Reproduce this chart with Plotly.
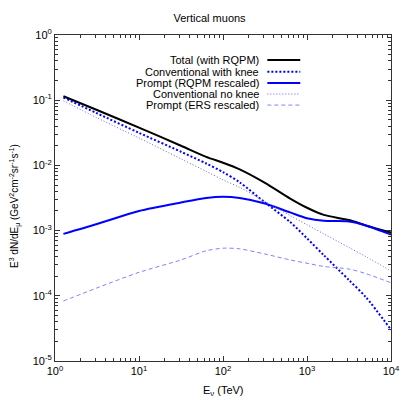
import plotly.graph_objects as go

# Energies (TeV)
energy = [1.26, 3.16, 10, 31.6, 63.1, 100, 158, 316, 631, 1000, 1585, 3162, 5012, 10000]

total_rqpm = [0.115, 0.0708, 0.038, 0.020, 0.0135, 0.011, 0.0087, 0.0054, 0.0031, 0.00224,
              0.00174, 0.00145, 0.0012, 0.00093]
conv_knee = [0.110, 0.063, 0.0316, 0.0162, 0.0107, 0.0079, 0.0055, 0.0027, 0.00135, 0.00076,
             0.00042, 0.000174, 0.0000955, 0.0000302]
prompt_rqpm = [0.00089, 0.00126, 0.002, 0.0027, 0.00316, 0.0033, 0.00316, 0.0026, 0.0019, 0.00155,
               0.00141, 0.00138, 0.0012, 0.00087]
conv_noknee = [0.0977, 0.0537, 0.0263, 0.0126, 0.0081, 0.0060, 0.0046, 0.0028, 0.0017, 0.00123,
               0.00089, 0.00055, 0.0004, 0.00024]
prompt_ers = [0.0000832, 0.000132, 0.000229, 0.000355, 0.00049, 0.000537, 0.000525, 0.000437,
              0.000355, 0.000316, 0.000282, 0.000257, 0.000219, 0.000158]

series_names = ["Total (with RQPM)", "Conventional with knee", "Prompt (RQPM rescaled)",
                "Conventional no knee", "Prompt (ERS rescaled)"]

x_tickvals = [1, 10, 100, 1000, 10000]
x_ticktext = ["10<sup>0</sup>", "10<sup>1</sup>", "10<sup>2</sup>", "10<sup>3</sup>", "10<sup>4</sup>"]
y_tickvals = [1e-5, 1e-4, 1e-3, 1e-2, 1e-1, 1]
y_ticktext = ["10<sup>-5</sup>", "10<sup>-4</sup>", "10<sup>-3</sup>", "10<sup>-2</sup>",
              "10<sup>-1</sup>", "10<sup>0</sup>"]

styles = [
    dict(color="#000000", width=2, dash="solid"),
    dict(color="#0000ff", width=2, dash="2px,2px"),
    dict(color="#0000ff", width=2, dash="solid"),
    dict(color="#6060ff", width=1, dash="1px,2px"),
    dict(color="#8080ff", width=1, dash="4px,3px"),
]
data = [total_rqpm, conv_knee, prompt_rqpm, conv_noknee, prompt_ers]

fig = go.Figure()
for name, ys, st in zip(series_names, data, styles):
    fig.add_trace(go.Scatter(x=energy, y=ys, mode="lines", name=name,
                             line=dict(color=st["color"], width=st["width"], dash=st["dash"],
                                       shape="spline", smoothing=0.8),
                             showlegend=False))

# custom gnuplot-style legend (text right, sample line on the right)
row_y = [0.923, 0.887, 0.853, 0.819, 0.785]
for name, st, yy in zip(series_names, styles, row_y):
    fig.add_annotation(x=0.614, y=yy, xref="paper", yref="paper", text=name, showarrow=False,
                       xanchor="right", yanchor="middle", font=dict(size=11, color="black"))
    fig.add_shape(type="line", xref="paper", yref="paper", x0=0.632, x1=0.730, y0=yy, y1=yy,
                  line=dict(color=st["color"], width=st["width"], dash=st["dash"]))

fig.add_annotation(x=17.0, y=0.0031, xref="x", yref="y", text="RQPM", showarrow=False,
                   font=dict(size=11, color="black"))
fig.add_annotation(x=14.0, y=0.000148, xref="x", yref="y", text="ERS", showarrow=False,
                   font=dict(size=11, color="black"))

# axis titles as annotations for exact placement
fig.add_annotation(x=(15 - 55) / 336, y=(361 - 206) / 326, xref="paper", yref="paper", textangle=-90,
                   text="E<sup>3</sup> dN/dE<sub>μ</sub> (GeV<sup>2</sup>cm<sup>-2</sup>sr<sup>-1</sup>s<sup>-1</sup>)",
                   showarrow=False, xanchor="center", yanchor="middle", font=dict(size=10))
fig.add_annotation(x=0.5, y=-(391 - 361) / 326, xref="paper", yref="paper",
                   text="E<sub>ν</sub> (TeV)", showarrow=False, xanchor="center", yanchor="middle",
                   font=dict(size=11))

minor_x = [m * 10 ** k for k in range(0, 4) for m in range(2, 10)]
minor_y = [m * 10 ** k for k in range(-5, 0) for m in range(2, 10)]

fig.update_layout(
    width=409, height=409,
    margin=dict(l=55, r=18, t=35, b=48, autoexpand=False),
    paper_bgcolor="white", plot_bgcolor="white",
    font=dict(family="Liberation Sans, Arial, sans-serif", size=11, color="black"),
    title=dict(text="Vertical muons", x=0.46, xref="paper", y=1 - 18 / 409, yref="container",
               xanchor="center", yanchor="middle", font=dict(size=11)),
)
axis_common = dict(type="log", tickmode="array", ticks="inside", ticklen=5, tickcolor="#333",
                   tickwidth=1, showgrid=False, zeroline=False, showline=True, linecolor="#333",
                   linewidth=1, mirror="allticks", automargin=False)
fig.update_xaxes(range=[0, 4], tickvals=x_tickvals, ticktext=x_ticktext,
                 minor=dict(tickmode="array", tickvals=minor_x, ticks="inside", ticklen=3,
                            tickcolor="#333", showgrid=False),
                 **axis_common)
fig.update_yaxes(range=[-5, 0], tickvals=y_tickvals, ticktext=y_ticktext,
                 minor=dict(tickmode="array", tickvals=minor_y, ticks="inside", ticklen=3,
                            tickcolor="#333", showgrid=False),
                 **axis_common)

fig.write_html("out.html", config={"displayModeBar": False},
               post_script="document.body.style.margin='0px';")
